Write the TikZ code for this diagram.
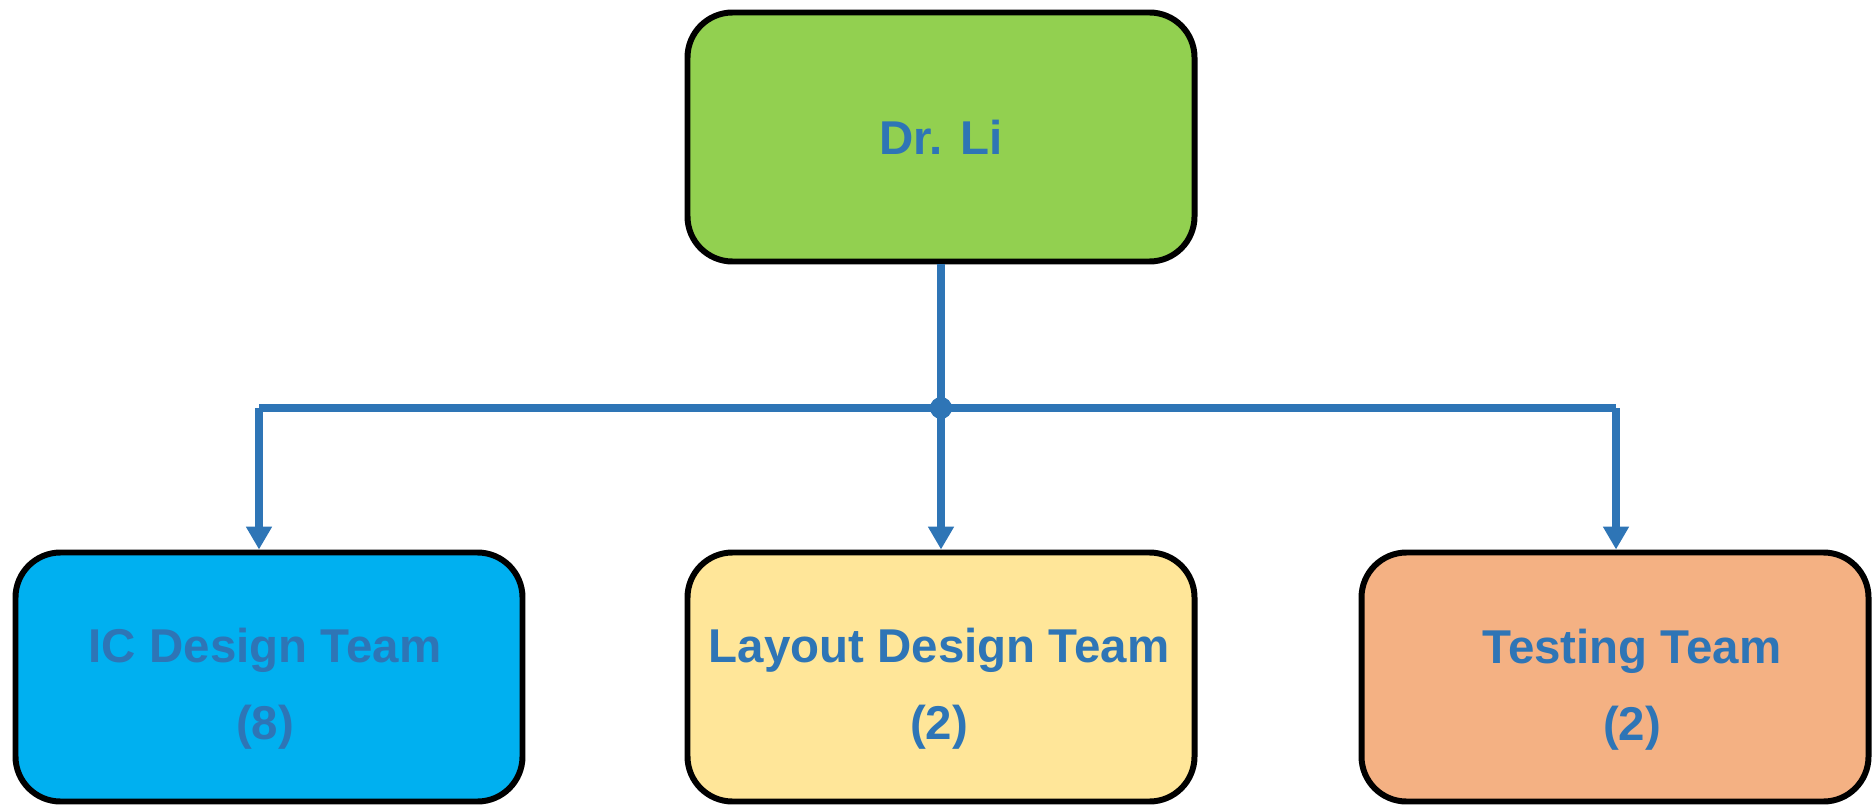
\documentclass[tikz,border=0pt]{standalone}
\usepackage{fontspec}
\setmainfont{Liberation Sans}
\usepackage{tikz}
\usetikzlibrary{positioning}
\usetikzlibrary{calc}
\usetikzlibrary{arrows.meta}
\definecolor{linkblue}{RGB}{46,117,182}
\definecolor{headgreen}{RGB}{146,208,80}
\definecolor{icblue}{RGB}{0,176,240}
\definecolor{layoutyellow}{RGB}{255,230,153}
\definecolor{testorange}{RGB}{244,177,131}
\tikzset{teambox/.style={draw=black,line width=3.4pt,rounded corners=0.9cm,minimum width=10.14cm,minimum height=4.98cm},
teamtext/.style={align=center,text=linkblue,font=\bfseries\fontsize{27pt}{44pt}\selectfont},
link/.style={draw=linkblue,line width=4.5pt,-{Triangle[width=14pt,length=13pt]}},
busline/.style={draw=linkblue,line width=4.5pt}}

\begin{document}
\begin{tikzpicture}
\useasboundingbox (0,0) rectangle (37.48,-16.14);

\node (drli) at (18.82,-2.74) [teambox,fill=headgreen] {};
\node (drliname) at (drli) [teamtext] {Dr. Li};

% the three teams
\node (ic) at (5.38,-13.54) [teambox,fill=icblue] {};
\node (layout) at (18.82,-13.54) [teambox,fill=layoutyellow] {};
\node (test) at (32.30,-13.54) [teambox,fill=testorange] {};

\node (icname) at ($(ic)+(-0.08,-0.24)$) [teamtext] {IC Design Team\\(8)};
\node (layoutname) at ($(layout)+(-0.04,-0.24)$) [teamtext] {Layout Design Team\\(2)};
\node (testname) at ($(test)+(0.34,-0.26)$) [teamtext] {Testing Team\\(2)};

\coordinate (busL) at (5.18,-8.16);
\coordinate (busR) at (32.32,-8.16);
\coordinate (hub) at (drli.south |- busL);

\draw [busline] (busL) -- (busR);
\draw [link] (drli.south) -- (layout.north);
\draw [link] (busL) -- (busL |- ic.north);
\draw [link] (busR) -- (busR |- test.north);
\fill [linkblue] (hub) circle (0.22);

\end{tikzpicture}
\end{document}
